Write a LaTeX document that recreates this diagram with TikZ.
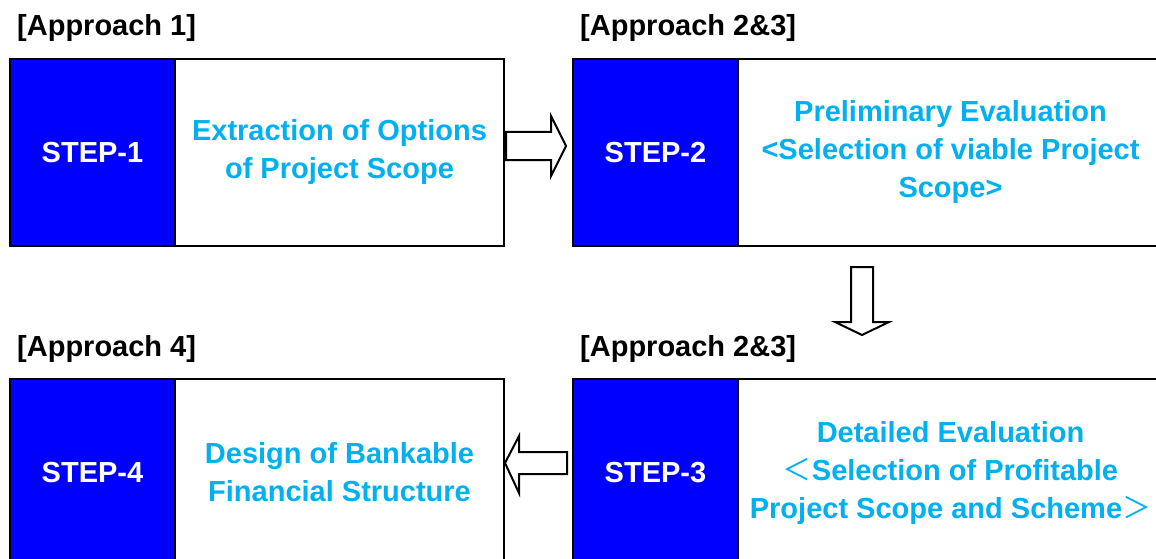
\documentclass[tikz,border=0pt]{standalone}
\usepackage{fontspec}
\setmainfont{Liberation Sans}
\newfontfamily\cjkfont{Noto Sans CJK JP}
\definecolor{stepblue}{HTML}{0000FF}
\definecolor{txtblue}{HTML}{00B0F0}
\begin{document}
\begin{tikzpicture}[x=1pt,y=-1pt,
  bigfont/.style={font=\fontsize{29}{38}\selectfont\bfseries},
  stepbox/.style={draw=black, line width=2pt, fill=stepblue, text=white, bigfont,
    minimum width=165pt, minimum height=187pt, anchor=north west, inner sep=0pt},
  descbox/.style={draw=black, line width=2pt, fill=white, text=txtblue, bigfont,
    minimum height=187pt, anchor=north west, inner sep=0pt, align=center},
  approach/.style={bigfont, text=black, anchor=base west, inner sep=0pt},
  blockarrow/.style={draw=black, line width=2pt, fill=white, line join=miter}
]
\useasboundingbox (0,0) rectangle (1156,559);
\clip (0,0) rectangle (1156,559);

% labels
\node[approach] (a1) at (17,36) {[Approach 1]};
\node[approach] (a2) at (580,36) {[Approach 2\&3]};
\node[approach] (a4) at (17,356) {[Approach 4]};
\node[approach] (a3) at (580,356) {[Approach 2\&3]};

% step 1
\node[descbox, minimum width=329pt] (t1) at (174,58) {Extraction of Options\\of Project Scope};
\node[stepbox] (s1) at (9,58) {STEP-1};
% step 2
\node[descbox, minimum width=425pt] (t2) at (737,58) {Preliminary Evaluation\\<Selection of viable Project\\Scope>};
\node[stepbox] (s2) at (572,58) {STEP-2};
% step 3
\node[descbox, minimum width=425pt] (t3) at (737,378) {Detailed Evaluation\\{\cjkfont\mdseries ＜}Selection of Profitable\\Project Scope and Scheme{\cjkfont\mdseries ＞}};
\node[stepbox] (s3) at (572,378) {STEP-3};
% step 4
\node[descbox, minimum width=329pt] (t4) at (174,378) {Design of Bankable\\Financial Structure};
\node[stepbox] (s4) at (9,378) {STEP-4};

% block arrows
\draw[blockarrow] (506,132) -- (551,132) -- (551,116) -- (566,146) -- (551,176) -- (551,160) -- (506,160) -- cycle;
\draw[blockarrow] (851,267) -- (873,267) -- (873,322) -- (889,322) -- (862,335) -- (835,322) -- (851,322) -- cycle;
\draw[blockarrow] (567,452) -- (519,452) -- (519,436) -- (505,463) -- (519,493) -- (519,474) -- (567,474) -- cycle;
\end{tikzpicture}
\end{document}
